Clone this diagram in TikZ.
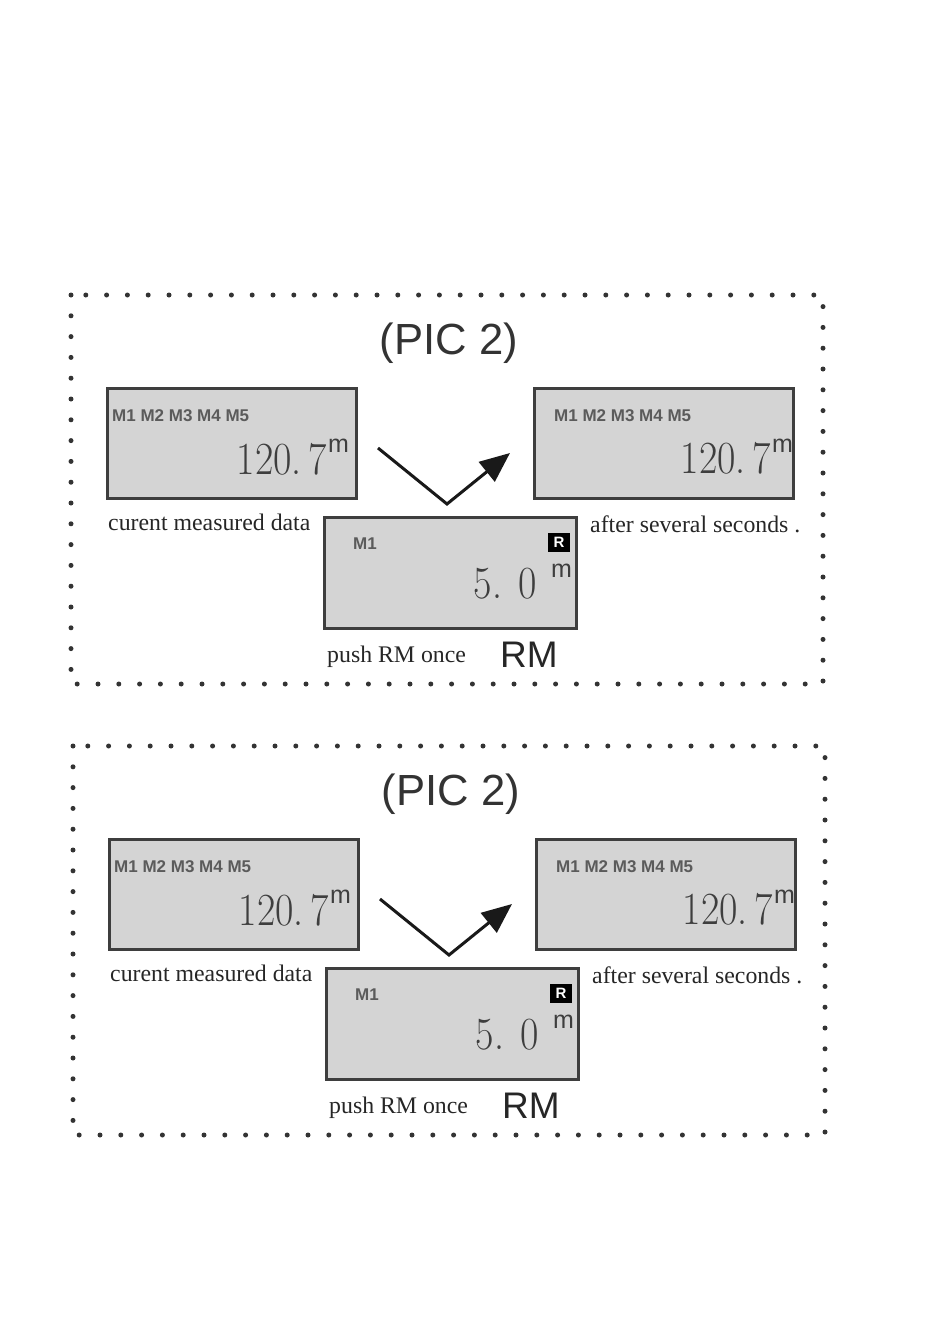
\documentclass[tikz,border=0pt]{standalone}
\usepackage{fontspec}
\setmainfont{Liberation Serif}
\setsansfont{Liberation Sans}
\newfontfamily\lcdfont{Latin Modern Roman}
\usetikzlibrary{positioning,calc,arrows.meta}

\definecolor{lcdgray}{RGB}{212,212,212}
\definecolor{lcdedge}{RGB}{62,62,62}
\definecolor{lcdink}{RGB}{62,62,62}

\begin{document}
\begin{tikzpicture}[x=1pt, y=-1pt,
        lcd/.style={draw=lcdedge, line width=3pt, fill=lcdgray, inner sep=0pt},
        tag/.style={font=\sffamily\bfseries\fontsize{17}{17}\selectfont, text=lcdink!85, inner sep=0pt},
        digits/.style={font=\lcdfont\fontsize{46}{46}\selectfont, text=lcdink, inner sep=0pt, xscale=0.87},
        unit/.style={font=\sffamily\fontsize{25}{25}\selectfont, text=lcdink, inner sep=0pt},
        caption/.style={font=\fontsize{23.8}{24}\selectfont, text=black!85, inner sep=0pt},
        dotframe/.style={black!80, line width=5pt, line cap=round, dash pattern=on 0pt off 20.8pt}]
    \useasboundingbox (0,0) rectangle (932,1323);
    \foreach \p/\dx/\dy in {1/0/0, 2/2/451} {
    \begin{scope}[shift={(\dx,\dy)}]
        \draw[dotframe] (71,295) rectangle (823,684);
        \node[font=\sffamily\fontsize{43.6}{44}\selectfont, text=black!80, inner sep=0pt] (title\p) at (449,343) {(PIC 2)};
        % current reading
        \node[lcd, minimum width=249pt, minimum height=110pt] (lcdA\p) at (231.5,443) {};
        \node[tag, anchor=west] (tagA\p) at (112,416) {M1 M2 M3 M4 M5};
        \node[digits, anchor=base east] (valA\p) at (327,474) {120.\,7};
        \node[unit, anchor=base west] (unitA\p) at (328,452) {m};
        \node[caption, anchor=base west] (capA\p) at (108,530) {curent measured data};
        % reading after a while
        \node[lcd, minimum width=259pt, minimum height=110pt] (lcdB\p) at (663.5,443) {};
        \node[tag, anchor=west] (tagB\p) at (554,416) {M1 M2 M3 M4 M5};
        \node[digits, anchor=base east] (valB\p) at (771,473) {120.\,7};
        \node[unit, anchor=base west] (unitB\p) at (772,452) {m};
        \node[caption, anchor=base west] (capB\p) at (590,532) {after several seconds .};
        % recalled memory
        \node[lcd, minimum width=252pt, minimum height=111pt] (lcdC\p) at (450,572.5) {};
        \node[tag, anchor=west] (tagC\p) at (353,544) {M1};
        \node[fill=black, text=white, font=\sffamily\bfseries\fontsize{15}{15}\selectfont,
            minimum width=22pt, minimum height=19pt, inner sep=0pt] (badge\p) at (559,542.5) {R};
        \node[digits, anchor=base east] (valC\p) at (537,598) {5. 0};
        \node[unit, anchor=base west] (unitC\p) at (551,577) {m};
        \node[caption, anchor=base west] (capC\p) at (327,662) {push RM once};
        \node[font=\sffamily\fontsize{37}{37}\selectfont, text=black!85, anchor=base west, inner sep=0pt] (key\p) at (500,667) {RM};
        % arrow
        \coordinate (arrS\p) at (378,448);
        \coordinate (arrV\p) at (447,504);
        \coordinate (arrE\p) at (510,453);
        \draw[black!90, line width=3pt, -{Triangle[length=30pt,width=25pt]}] (arrS\p) -- (arrV\p) -- (arrE\p);
    \end{scope}
    }
\end{tikzpicture}
\end{document}
